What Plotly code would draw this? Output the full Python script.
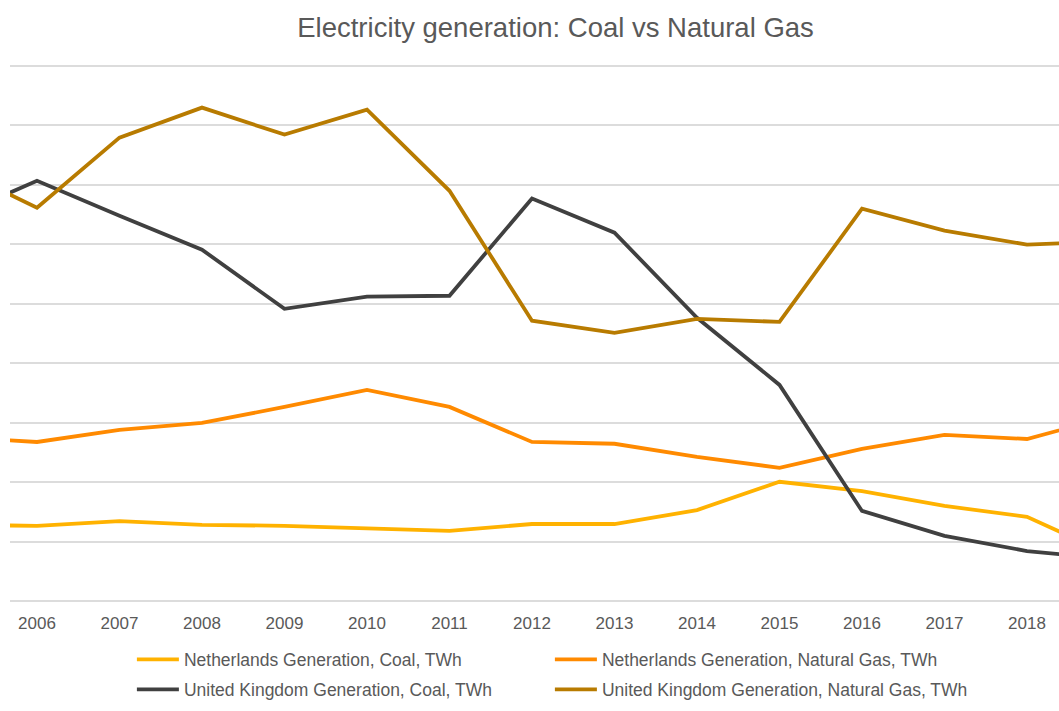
import plotly.graph_objects as go

years = [2005, 2006, 2007, 2008, 2009, 2010, 2011, 2012, 2013, 2014, 2015, 2016, 2017, 2018, 2019]
tick_years = [2006, 2007, 2008, 2009, 2010, 2011, 2012, 2013, 2014, 2015, 2016, 2017, 2018]

nl_coal = [25.6, 25.3, 26.9, 25.6, 25.3, 24.6, 23.6, 25.9, 25.9, 30.6, 40.1, 37.0, 32.0, 28.3, 15.8]
nl_gas = [55.1, 53.5, 57.6, 59.9, 65.3, 71.0, 65.3, 53.5, 52.9, 48.5, 44.8, 51.2, 55.9, 54.5, 62.0]
uk_coal = [129.1, 141.4, 129.6, 118.2, 98.3, 102.4, 102.7, 135.4, 123.9, 95.3, 72.7, 30.3, 21.9, 16.8, 14.2]
uk_gas = [145.7, 132.3, 155.9, 166.0, 156.9, 165.3, 138.0, 94.3, 90.2, 94.9, 93.9, 132.0, 124.6, 119.9, 120.9]

series = [
    ("Netherlands Generation, Coal, TWh", nl_coal, "#FFB200", "legend"),
    ("Netherlands Generation, Natural Gas, TWh", nl_gas, "#FF8A00", "legend"),
    ("United Kingdom Generation, Coal, TWh", uk_coal, "#404040", "legend2"),
    ("United Kingdom Generation, Natural Gas, TWh", uk_gas, "#B87B00", "legend2"),
]

FONT = "Liberation Sans, Arial, sans-serif"
TXT = "#595959"

fig = go.Figure()
for name, vals, color, leg in series:
    fig.add_trace(go.Scatter(
        x=years, y=vals, name=name, mode="lines",
        line=dict(color=color, width=3.8),
        legend=leg,
    ))

legend_common = dict(
    orientation="h",
    x=0.1162, xanchor="left", xref="paper",
    yanchor="top",
    entrywidth=361, entrywidthmode="pixels",
    font=dict(size=17.5, color=TXT, family=FONT),
    bgcolor="rgba(0,0,0,0)",
    itemwidth=42,
)

fig.update_layout(
    width=1059, height=711,
    paper_bgcolor="white", plot_bgcolor="white",
    margin=dict(l=10, r=0, t=63, b=110),
    font=dict(family=FONT, color=TXT),
    title=dict(
        text="Electricity generation: Coal vs Natural Gas",
        x=0.5246, xref="container", xanchor="center",
        y=0.962, yref="container", yanchor="middle",
        font=dict(size=27.5, color=TXT, family=FONT),
    ),
    xaxis=dict(
        range=[2005.673, 2018.388],
        tickmode="array", tickvals=tick_years,
        ticktext=[str(y) for y in tick_years],
        showgrid=False, zeroline=False, showline=False,
        ticks="outside", ticklen=7, tickcolor="rgba(0,0,0,0)",
        tickfont=dict(size=17, color=TXT, family=FONT),
    ),
    yaxis=dict(
        range=[0, 181], dtick=20, tick0=0,
        showgrid=True, gridcolor="#DCDCDC", gridwidth=1.5,
        zeroline=True, zerolinecolor="#DCDCDC", zerolinewidth=1.5,
        showticklabels=False, showline=False,
    ),
    showlegend=True,
    legend=dict(legend_common, y=-0.0753),
    legend2=dict(legend_common, y=-0.1310),
)

fig.write_html(
    "out.html",
    config={"displayModeBar": False},
    post_script="document.body.style.margin='0';document.body.style.overflow='hidden';",
)
